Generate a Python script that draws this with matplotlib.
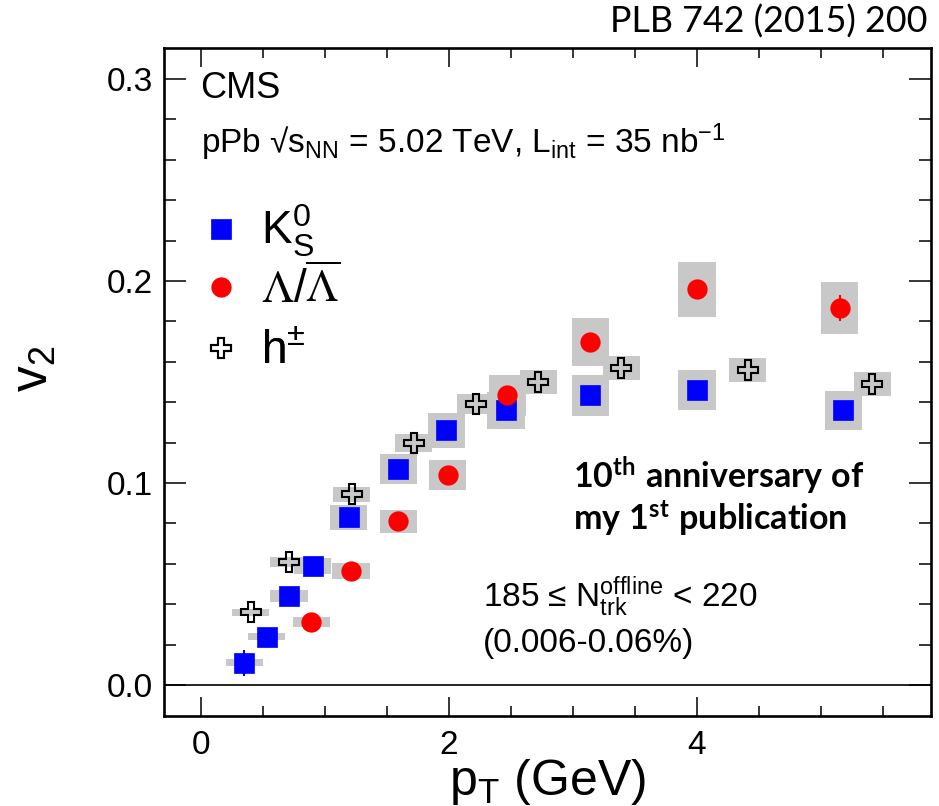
import matplotlib
matplotlib.use('Agg')
import matplotlib.pyplot as plt
from matplotlib.lines import Line2D
from matplotlib.ticker import MultipleLocator, FormatStrFormatter

plt.rcParams['font.family'] = ['Liberation Sans', 'DejaVu Sans']
plt.rcParams['mathtext.fontset'] = 'custom'
plt.rcParams['mathtext.rm'] = 'Liberation Sans'
plt.rcParams['mathtext.it'] = 'Liberation Sans:italic'
plt.rcParams['mathtext.bf'] = 'Lato:bold'
plt.rcParams['mathtext.default'] = 'regular'

# ---------------- data ----------------
k0s_pt = [0.35, 0.53, 0.71, 0.90, 1.19, 1.59, 1.98, 2.46, 3.14, 4.00, 5.18]
k0s_v2 = [0.011, 0.024, 0.044, 0.059, 0.083, 0.107, 0.126, 0.136, 0.1435, 0.146, 0.136]
k0s_sys = [0.0017, 0.0017, 0.0031, 0.0040, 0.0060, 0.0074, 0.0087, 0.0091, 0.0101, 0.0101, 0.0096]
k0s_stat = [0.0066, 0, 0, 0, 0, 0, 0, 0, 0, 0, 0]

lam_pt = [0.89, 1.21, 1.59, 1.99, 2.47, 3.14, 4.00, 5.15]
lam_v2 = [0.031, 0.0565, 0.081, 0.104, 0.1435, 0.170, 0.196, 0.1865]
lam_sys = [0.0025, 0.0040, 0.0056, 0.0073, 0.0101, 0.0119, 0.0136, 0.0129]
lam_stat = [0, 0, 0, 0, 0, 0, 0, 0.0064]

h_pt = [0.40, 0.71, 1.215, 1.715, 2.215, 2.72, 3.39, 4.41, 5.415]
h_v2 = [0.036, 0.061, 0.0945, 0.120, 0.139, 0.150, 0.157, 0.156, 0.149]
h_sys = [0.0017, 0.0025, 0.0037, 0.0045, 0.0050, 0.0058, 0.0060, 0.0061, 0.0058]

legend_labels = [r'K$_{\mathrm{S}}^{0}$', r'$\mathrm{\Lambda}/\overline{\mathrm{\Lambda}}$', r'h$^{\pm}$']
box_half_width = 0.15
x_ticks = [0, 2, 4]
y_ticks = [0.0, 0.1, 0.2, 0.3]

# ---------------- figure ----------------
fig = plt.figure(figsize=(9.39, 8.06), dpi=100)
ax = fig.add_axes([164/939, 90/806, 767/939, 668/806])

box_color = '#c8c8c8'
for pts, v2s, syss in [(k0s_pt, k0s_v2, k0s_sys), (lam_pt, lam_v2, lam_sys), (h_pt, h_v2, h_sys)]:
    ax.bar(pts, [2*s for s in syss], bottom=[v - s for v, s in zip(v2s, syss)],
           width=2*box_half_width, color=box_color, linewidth=0, zorder=1)

ax.axhline(0.0, color='black', lw=1.2, zorder=0.5)

ax.errorbar(k0s_pt, k0s_v2, yerr=k0s_stat, fmt='s', color='blue', ms=14.4, mew=0.5,
            mec='blue', elinewidth=1.5, capsize=0, zorder=3)
ax.errorbar(lam_pt, lam_v2, yerr=lam_stat, fmt='o', color='red', ms=14.6, mew=0,
            elinewidth=1.5, capsize=0, zorder=4)
ax.plot(h_pt, h_v2, 'P', mfc='none', mec='black', mew=1.5, ms=14.5, zorder=5, ls='none')

ax.set_xlim(-0.298, 5.887)
ax.set_ylim(-0.0153, 0.3153)
ax.set_xticks(x_ticks)
ax.set_yticks(y_ticks)
ax.xaxis.set_minor_locator(MultipleLocator(0.5))
ax.yaxis.set_minor_locator(MultipleLocator(0.02))
ax.yaxis.set_major_formatter(FormatStrFormatter('%.1f'))
ax.tick_params(which='both', direction='in', top=True, right=True, width=1.1, labelsize=24)
ax.tick_params(axis='x', which='major', length=13.7, pad=10)
ax.tick_params(axis='x', which='minor', length=7.2)
ax.tick_params(axis='y', which='major', length=16, pad=8)
ax.tick_params(axis='y', which='minor', length=8.6)
for sp in ax.spines.values():
    sp.set_linewidth(1.9)

ax.set_xlabel(r'p$_{\mathrm{T}}$ (GeV)', fontsize=36, labelpad=-3)
ax.set_ylabel(r'v$_{2}$', fontsize=37)
ax.yaxis.set_label_coords(-0.138, 0.52)

# legend: one single-entry legend per row
handles = [
    Line2D([], [], marker='s', color='blue', ls='none', ms=14.4, mew=0.5),
    Line2D([], [], marker='o', color='red', ls='none', ms=14.6, mew=0),
    Line2D([], [], marker='P', mfc='none', mec='black', mew=1.5, ls='none', ms=14.5),
]
row_y = [0.726, 0.638, 0.545]
for i, (hd, lb, yy) in enumerate(zip(handles, legend_labels, row_y)):
    lg = ax.legend([hd], [lb], loc='center left', bbox_to_anchor=(0.0456, yy),
                   frameon=False, fontsize=33, handlelength=0.95, handletextpad=0.4,
                   borderpad=0, borderaxespad=0)
    if i == 1:
        lg.get_texts()[0].set_math_fontfamily('stix')
    ax.add_artist(lg)

# texts
ax.text(0.047, 0.925, 'CMS', transform=ax.transAxes, fontsize=26, va='baseline')
ax.text(0.048, 0.843, r'pPb √s$_{\mathrm{NN}}$ = 5.02 TeV, L$_{\mathrm{int}}$ = 35 nb$^{-1}$',
        transform=ax.transAxes, fontsize=24, va='baseline')
ax.text(0.533, 0.341, r'$\mathbf{10}^{\mathbf{th}}\mathbf{\ anniversary\ of}$',
        transform=ax.transAxes, fontsize=24.5, va='baseline')
ax.text(0.533, 0.278, r'$\mathbf{my\ 1}^{\mathbf{st}}\mathbf{\ publication}$',
        transform=ax.transAxes, fontsize=24.5, va='baseline')
ax.text(0.416, 0.163, r'185 ≤ N$_{\mathrm{trk}}^{\mathrm{offline}}$ < 220',
        transform=ax.transAxes, fontsize=24, va='baseline')
ax.text(0.416, 0.0958, '(0.006-0.06%)', transform=ax.transAxes, fontsize=24, va='baseline')

fig.text(0.988, 0.959, 'PLB 742 (2015) 200', fontsize=25.8, family='Lato', ha='right', va='baseline')

fig.savefig('out.png', dpi=100)
